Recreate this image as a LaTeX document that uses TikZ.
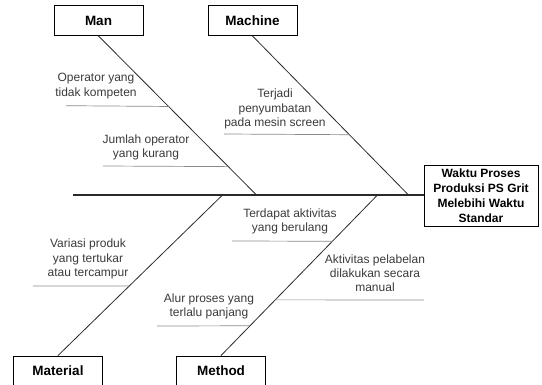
\documentclass[tikz,border=0pt]{standalone}
\usepackage{fontspec}
\setmainfont{Liberation Sans}
\usetikzlibrary{calc}
\definecolor{lbl}{HTML}{3A3A3A}
\definecolor{sub}{HTML}{8A8A8A}
\definecolor{bone}{HTML}{2A2A2A}
\tikzset{
  catbox/.style={draw=black, line width=0.9pt, minimum width=89pt, minimum height=30pt, inner sep=0pt, font=\fontsize{13.5}{15}\selectfont\bfseries},
  effbox/.style={draw=black, line width=0.9pt, minimum width=114pt, minimum height=61pt, inner sep=0pt, align=center, font=\fontsize{12}{15}\selectfont\bfseries},
  cause/.style={align=center, text=lbl, inner sep=0pt, font=\fontsize{12}{14.2}\selectfont},
  bone/.style={draw=bone, line width=0.8pt},
  spine/.style={draw=bone, line width=2pt},
  subline/.style={draw=sub, line width=0.7pt}
}
\begin{document}
\begin{tikzpicture}[x=1pt,y=-1pt]
\useasboundingbox (0,0) rectangle (542,385);
\clip (0,0) rectangle (542,385);
% category boxes
\node[catbox] (man) at (98.5,20.5) {Man};
\node[catbox] (machine) at (252.5,20.5) {Machine};
\node[catbox] (material) at (58,371) {Material};
\node[catbox] (method) at (221,371) {Method};
% effect
\node[effbox] (effect) at (481,195.5) {Waktu Proses\\Produksi PS Grit\\Melebihi Waktu\\Standar};
% spine
\coordinate (tail) at (73,195.5);
\draw[spine] (tail) -- (effect.west);
% bone ends on spine
\coordinate (manB) at (257,195.5);
\coordinate (macB) at (409,195.5);
\coordinate (matB) at (222,195.5);
\coordinate (metB) at (377,195.5);
\draw[bone] (man.south) -- (manB);
\draw[bone] (machine.south) -- (macB);
\draw[bone] (material.north) -- (matB);
\draw[bone] (method.north) -- (metB);
% causes
\node[cause] (c1) at (96,86) {Operator yang\\tidak kompeten};
\node[cause] (c2) at (146,147) {Jumlah operator\\yang kurang};
\node[cause] (c3) at (275,109) {Terjadi\\penyumbatan\\pada mesin screen};
\node[cause] (c4) at (290,221) {Terdapat aktivitas\\yang berulang};
\node[cause] (c5) at (88,259) {Variasi produk\\yang tertukar\\atau tercampur};
\node[cause] (c6) at (375,273) {Aktivitas pelabelan\\dilakukan secara\\manual};
\node[cause] (c7) at (209,306.5) {Alur proses yang\\terlalu panjang};
% cause lines
\coordinate (s1) at (66,105.7);
\coordinate (s2) at (103,166);
\coordinate (s3) at (224,134);
\coordinate (s4) at (232,241);
\coordinate (s5) at (33,286);
\coordinate (s6) at (424,300);
\coordinate (s7) at (157,326);
\draw[subline] (s1) -- ($(man.south)!0.442!(manB)$);
\draw[subline] (s2) -- ($(man.south)!0.819!(manB)$);
\draw[subline] (s3) -- ($(machine.south)!0.619!(macB)$);
\draw[subline] (s4) -- ($(metB)!0.286!(method.north)$);
\draw[subline] (s5) -- ($(matB)!0.565!(material.north)$);
\draw[subline] (s6) -- ($(metB)!0.652!(method.north)$);
\draw[subline] (s7) -- ($(metB)!0.814!(method.north)$);
\end{tikzpicture}
\end{document}
